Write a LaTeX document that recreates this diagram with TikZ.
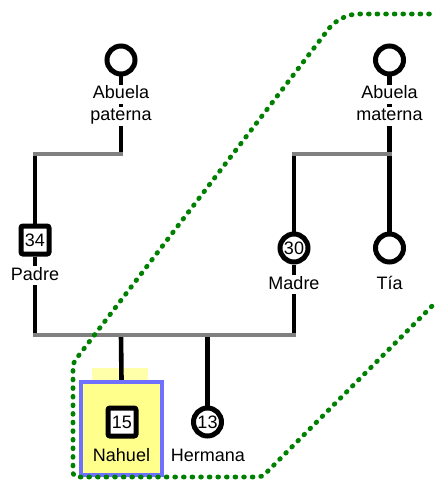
\documentclass[tikz,border=0pt]{standalone}
\usepackage{fontspec}
\setmainfont{Liberation Sans}
\pgfdeclarelayer{bg}
\pgfdeclarelayer{lines}
\pgfsetlayers{bg,lines,main}
\definecolor{gline}{RGB}{128,128,128}
\definecolor{dgreen}{RGB}{0,128,0}
\definecolor{selfill}{RGB}{255,255,140}
\definecolor{stripfill}{RGB}{255,255,170}
\definecolor{selblue}{RGB}{112,112,255}
\begin{document}
\begin{tikzpicture}[x=1pt,y=-1pt,
  lbl/.style={fill=white, inner xsep=1pt, inner ysep=1pt, text height=13pt, text depth=4pt, font=\fontsize{18}{20}\selectfont, anchor=base},
  fem/.style={circle, draw, line width=5pt, fill=white, minimum size=28pt, inner sep=0pt, font=\fontsize{18}{20}\selectfont},
  male/.style={rectangle, rounded corners=2pt, draw, line width=5pt, fill=white, minimum size=28pt, inner sep=0pt, font=\fontsize{18}{20}\selectfont},
  kin/.style={line width=4.6pt, black},
  union/.style={line width=4.6pt, gline, line cap=rect},
  selbox/.style={draw=selblue, line width=4pt, fill=selfill, minimum width=81pt, minimum height=93pt, inner sep=0pt},
  hilite/.style={fill=stripfill, minimum width=56pt, minimum height=13pt, inner sep=0pt, draw=none},
  group/.style={dgreen, line width=4.8pt, line cap=round, dash pattern=on 0.8pt off 7.8pt},
]
\useasboundingbox (0,0) rectangle (434,481);

% persons
\node[fem] (apat) at (121,60) {};
\node[lbl] (apatA) at (121,99) {Abuela};
\node[lbl] (apatB) at (121,121) {paterna};
\node[fem] (amat) at (389.5,60) {};
\node[lbl] (amatA) at (389.5,99) {Abuela};
\node[lbl] (amatB) at (389.5,121) {materna};
\node[male] (padre) at (35,240) {34};
\node[lbl] (padrel) at (35,280) {Padre};
\node[fem] (madre) at (294,248) {30};
\node[lbl] (madrel) at (294,289) {Madre};
\node[fem] (tia) at (389.5,248) {};
\node[lbl] (tial) at (389.5,289) {Tía};
\node[selbox] (sel) at (121.5,428.5) {};
\node[male] (nahuel) at (122,422) {15};
\node[lbl, fill=none] (nahuell) at (121.5,461) {Nahuel};
\node[fem] (hermana) at (207.5,422) {13};
\node[lbl] (hermanal) at (208,461) {Hermana};

% junctions
\coordinate (jpatL) at (35,154);
\coordinate (jpatR) at (121,154);
\coordinate (jmatL) at (294,154);
\coordinate (jmatR) at (389.5,154);
\coordinate (jparL) at (35,335);
\coordinate (jparR) at (294,335);
\coordinate (jkid1) at (121,335);
\coordinate (jkid2) at (207.5,335);

\begin{pgfonlayer}{bg}
\node[hilite] (strip) at (120,374.5) {};
\end{pgfonlayer}

\begin{pgfonlayer}{lines}
\draw[kin] (apat) -- (jpatR);
\draw[kin] (jpatL) -- (padre);
\draw[kin] (padre) -- (jparL);
\draw[kin] (amat) -- (tia);
\draw[kin] (jmatL) -- (madre);
\draw[kin] (madre) -- (jparR);
\draw[kin] (jkid1) -- (sel.north);
\draw[kin] (jkid2) -- (hermana);
\draw[union] (jpatL) -- (jpatR);
\draw[union] (jmatL) -- (jmatR);
\draw[union] (jparL) -- (jparR);
\end{pgfonlayer}

% group outline
\coordinate (g1) at (444,294);
\coordinate (g2) at (262,477);
\coordinate (g3) at (73,477);
\coordinate (g4) at (73,363);
\coordinate (g5) at (340,14);
\coordinate (g6) at (440,14);
\draw[group, rounded corners=4pt] (g1) -- (g2) -- (g3) -- (g4) [rounded corners=18pt] -- (g5) [rounded corners=4pt] -- (g6);
\end{tikzpicture}
\end{document}
